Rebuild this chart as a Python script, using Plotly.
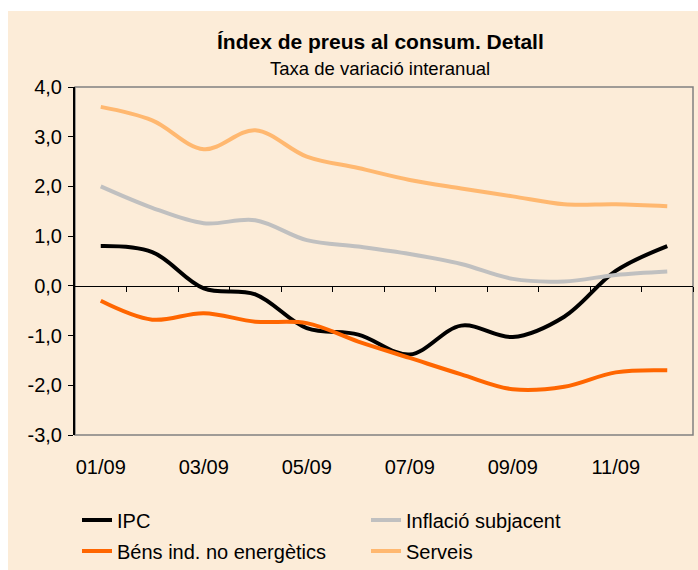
import plotly.graph_objects as go

months = ["01/09", "02/09", "03/09", "04/09", "05/09", "06/09",
          "07/09", "08/09", "09/09", "10/09", "11/09", "12/09"]
ipc = [0.8, 0.68, -0.05, -0.17, -0.85, -0.98, -1.38, -0.8, -1.03, -0.62, 0.3, 0.8]
subjacent = [2.0, 1.57, 1.26, 1.32, 0.92, 0.79, 0.64, 0.44, 0.14, 0.09, 0.22, 0.29]
bens = [-0.3, -0.68, -0.55, -0.72, -0.75, -1.12, -1.45, -1.78, -2.08, -2.03, -1.74, -1.7]
serveis = [3.6, 3.33, 2.75, 3.13, 2.6, 2.37, 2.13, 1.96, 1.8, 1.64, 1.64, 1.6]

ytick_vals = [-3, -2, -1, 0, 1, 2, 3, 4]
ytick_text = [f"{v:.1f}".replace(".", ",") for v in ytick_vals]
xlabel_idx = [0, 2, 4, 6, 8, 10]

CREAM = "#FCECD8"
FONT = "Liberation Sans, Arial, sans-serif"

W, H = 698, 570
L, R, T, B = 75, 5, 87, 135
pw, ph = W - L - R, H - T - B

x = list(range(len(months)))

series = [
    ("IPC", ipc, "#000000", "legend"),
    ("Inflació subjacent", subjacent, "#C0C0C0", "legend2"),
    ("Béns ind. no energètics", bens, "#FF6600", "legend3"),
    ("Serveis", serveis, "#FFB870", "legend4"),
]

fig = go.Figure()
for name, vals, col, lg in series:
    fig.add_trace(go.Scatter(
        x=x, y=vals, name=name, mode="lines",
        line=dict(color=col, width=4, shape="spline", smoothing=1.0),
        legend=lg, hoverinfo="skip"))

# invisible trace carrying the zero-line axis with its ticks
fig.add_trace(go.Scatter(x=[-0.5, 11.5], y=[0, 0], xaxis="x2", mode="lines",
                         line=dict(color="rgba(0,0,0,0)"), showlegend=False,
                         hoverinfo="skip"))


def legend_pos(px, py):
    return dict(xref="paper", yref="paper", x=(px - L) / pw, y=(T + ph - py) / ph,
                xanchor="left", yanchor="middle", orientation="h",
                bgcolor="rgba(0,0,0,0)", font=dict(family=FONT, size=20, color="#000"),
                itemwidth=30, borderwidth=0)


fig.update_layout(
    width=W, height=H,
    margin=dict(l=L, r=R, t=T, b=B, autoexpand=False),
    paper_bgcolor="white",
    plot_bgcolor="rgba(0,0,0,0)",
    font=dict(family=FONT, size=20, color="#000"),
    showlegend=True,
    legend=legend_pos(77, 520),
    legend2=legend_pos(366, 520),
    legend3=legend_pos(77, 551),
    legend4=legend_pos(366, 551),
    xaxis=dict(
        range=[-0.5, 11.5], tickmode="array",
        tickvals=[x[i] for i in xlabel_idx],
        ticktext=[months[i] for i in xlabel_idx],
        showgrid=False, zeroline=False, showline=False,
        ticks="outside", ticklen=14, tickcolor="rgba(0,0,0,0)",
        tickfont=dict(family=FONT, size=20),
    ),
    xaxis2=dict(
        overlaying="x", anchor="free", position=3 / 7, side="bottom",
        range=[-0.5, 11.5], tickmode="array",
        tickvals=[i + 0.5 for i in x],
        showticklabels=False, showgrid=False, zeroline=False,
        showline=True, linecolor="#000", linewidth=1,
        ticks="outside", ticklen=5, tickcolor="#000", tickwidth=1,
    ),
    yaxis=dict(
        range=[-3, 4], tickmode="array", tickvals=ytick_vals, ticktext=ytick_text,
        showgrid=False, zeroline=False,
        showline=True, linecolor="#000", linewidth=2,
        ticks="outside", ticklen=5, tickcolor="#000", tickwidth=1,
        ticklabelstandoff=2,
        tickfont=dict(family=FONT, size=20),
    ),
    shapes=[
        dict(type="rect", xref="paper", yref="paper", layer="below",
             x0=(8 - L) / pw, x1=(W + 5 - L) / pw,
             y0=-(H + 5 - (T + ph)) / ph, y1=1 + (T - 11) / ph,
             fillcolor=CREAM, line=dict(width=0)),
        dict(type="rect", xref="paper", yref="paper", layer="below",
             x0=0, x1=1, y0=0, y1=1,
             line=dict(color="#808080", width=1.5)),
    ],
    annotations=[
        dict(xref="paper", yref="paper", x=(380 - L) / pw, y=1 + (T - 42) / ph,
             text="<b>Índex de preus al consum. Detall</b>", showarrow=False,
             font=dict(family=FONT, size=21, color="#000"),
             xanchor="center", yanchor="middle"),
        dict(xref="paper", yref="paper", x=(380 - L) / pw, y=1 + (T - 68) / ph,
             text="Taxa de variació interanual", showarrow=False,
             font=dict(family=FONT, size=18.5, color="#000"),
             xanchor="center", yanchor="middle"),
    ],
)

fig.write_html("out.html", config={"displayModeBar": False, "staticPlot": True},
               post_script="document.body.style.margin='0';document.body.style.overflow='hidden';")
